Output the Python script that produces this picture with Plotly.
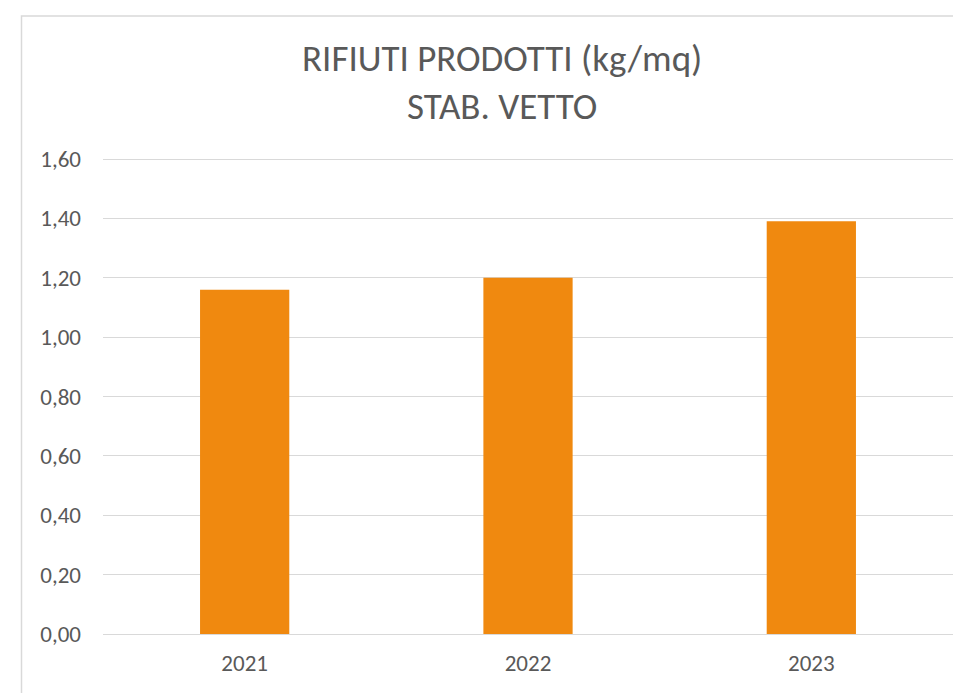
import plotly.graph_objects as go

years = ["2021", "2022", "2023"]
values = [1.16, 1.20, 1.39]
title_lines = ["RIFIUTI PRODOTTI (kg/mq)", "STAB. VETTO"]

W, H = 953, 693
Y0_PX, Y16_PX = 634, 159           # pixel rows of 0,00 and 1,60
UNIT = (Y0_PX - Y16_PX) / 1.6      # pixels per unit
L, R, T, B = 103, 0, 155, H - Y0_PX
YMAX = (Y0_PX - T) / UNIT
pw, ph = W - L - R, H - T - B

def px_x(x):
    return (x - L) / pw

def px_y(y):
    return (H - B - y) / ph

FONT = "Carlito, Calibri, Liberation Sans, sans-serif"
GRAY = "#595959"

fig = go.Figure(go.Bar(
    x=years, y=values, marker=dict(color="#F0890F", line=dict(width=0)),
    width=0.315,
))

fig.update_layout(
    width=W, height=H,
    margin=dict(l=L, r=R, t=T, b=B),
    paper_bgcolor="white", plot_bgcolor="white",
    showlegend=False,
    separators=",.",
    font=dict(family=FONT, color=GRAY, size=23),
    xaxis=dict(range=[-0.5, 2.5], showgrid=False, showline=False, zeroline=False,
               ticks="", tickfont=dict(size=23, color=GRAY), ticklabelstandoff=13),
    yaxis=dict(range=[0, YMAX], dtick=0.2, tick0=0, tickformat=".2f",
               showgrid=True, gridcolor="#D9D9D9", gridwidth=1.3,
               zeroline=True, zerolinecolor="#D9D9D9", zerolinewidth=1.3,
               showline=False, ticks="", tickfont=dict(size=23, color=GRAY),
               ticklabelstandoff=21),
    annotations=[dict(
        text="<br>".join(title_lines), xref="paper", yref="paper",
        x=px_x(502), y=px_y(82), xanchor="center", yanchor="middle",
        showarrow=False, font=dict(family=FONT, size=37, color=GRAY),
    )],
    shapes=[dict(
        type="rect", xref="paper", yref="paper",
        x0=px_x(21.5), x1=px_x(1010), y0=px_y(740), y1=px_y(16),
        line=dict(color="#D9D9D9", width=1.5), fillcolor="rgba(0,0,0,0)",
    )],
)

fig.write_html(
    "out.html",
    config={"displayModeBar": False},
    post_script="document.body.style.margin='0';document.body.style.overflow='hidden';",
)
